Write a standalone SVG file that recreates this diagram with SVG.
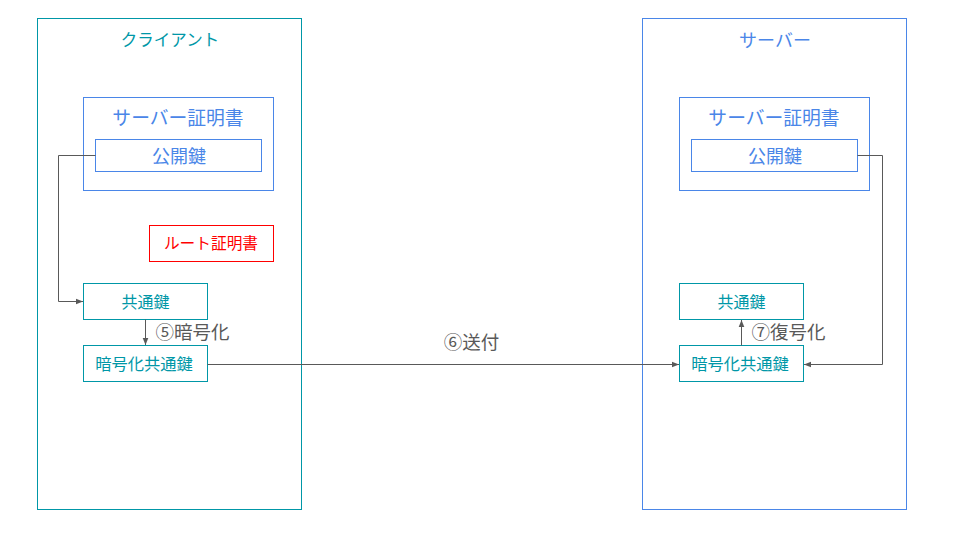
<svg xmlns="http://www.w3.org/2000/svg" width="960" height="540" viewBox="0 0 960 540">
<style>
text{font-family:"Noto Sans CJK JP","Noto Sans",sans-serif;text-anchor:middle;dominant-baseline:central}
.teal{fill:none;stroke:#0097a7;stroke-width:1}
.blue{fill:none;stroke:#4a86e8;stroke-width:1}
.red{fill:none;stroke:#ff0000;stroke-width:1}
.tt{fill:#0097a7}
.bt{fill:#4a86e8}
.rt{fill:#ff0000}
.lbl{fill:#595959;font-size:18.5px}
.conn{fill:none;stroke:#595959;stroke-width:1}
</style>
<defs>
<marker id="arr" viewBox="0 0 10 10" refX="10" refY="5" markerWidth="7" markerHeight="7" markerUnits="userSpaceOnUse" orient="auto">
<path d="M0,1 L10,5 L0,9 Z" fill="#595959"/>
</marker>
</defs>
<rect width="960" height="540" fill="#ffffff"/>
<g id="client">
<rect class="teal" x="37.5" y="18.5" width="264" height="491"/>
<text class="tt" x="170" y="39" font-size="16.5">クライアント</text>
</g>
<g id="server">
<rect class="blue" x="642.5" y="18.5" width="264" height="491"/>
<text class="bt" x="775" y="39" font-size="18">サーバー</text>
</g>
<g id="client-cert">
<rect class="blue" x="83.5" y="97.5" width="190" height="93"/>
<text class="bt" x="178" y="116" font-size="18.8">サーバー証明書</text>
</g>
<g id="client-pubkey">
<rect class="blue" x="95.5" y="139.5" width="166" height="32"/>
<text class="bt" x="179" y="154.5" font-size="18">公開鍵</text>
</g>
<g id="root-cert">
<rect class="red" x="149.5" y="225.5" width="124" height="36"/>
<text class="rt" x="211" y="242.5" font-size="15.7">ルート証明書</text>
</g>
<g id="client-key">
<rect class="teal" x="83.5" y="283.5" width="124" height="36"/>
<text class="tt" x="145.5" y="300.5" font-size="16">共通鍵</text>
</g>
<g id="client-enckey">
<rect class="teal" x="83.5" y="345.5" width="124" height="36"/>
<text class="tt" x="144" y="363" font-size="16.3">暗号化共通鍵</text>
</g>
<g id="server-cert">
<rect class="blue" x="679.5" y="97.5" width="190" height="93"/>
<text class="bt" x="774" y="116" font-size="18.8">サーバー証明書</text>
</g>
<g id="server-pubkey">
<rect class="blue" x="691.5" y="139.5" width="166" height="32"/>
<text class="bt" x="775" y="154.5" font-size="18">公開鍵</text>
</g>
<g id="server-key">
<rect class="teal" x="679.5" y="283.5" width="124" height="36"/>
<text class="tt" x="741.5" y="300.5" font-size="16">共通鍵</text>
</g>
<g id="server-enckey">
<rect class="teal" x="679.5" y="345.5" width="124" height="36"/>
<text class="tt" x="740" y="363" font-size="16.3">暗号化共通鍵</text>
</g>
<g id="connectors">
<path class="conn" d="M95.5,155.5 H58.5 V301.5 H83" marker-end="url(#arr)"/>
<path class="conn" d="M145.5,319.5 V345" marker-end="url(#arr)"/>
<path class="conn" d="M207.5,364.5 H679" marker-end="url(#arr)"/>
<path class="conn" d="M857.5,155.5 H882.5 V364.5 H804" marker-end="url(#arr)"/>
<path class="conn" d="M741.5,345.5 V320" marker-end="url(#arr)"/>
<text class="lbl" x="192.5" y="331">⑤暗号化</text>
<text class="lbl" x="471.5" y="341">⑥送付</text>
<text class="lbl" x="788.5" y="331">⑦復号化</text>
</g>
</svg>
